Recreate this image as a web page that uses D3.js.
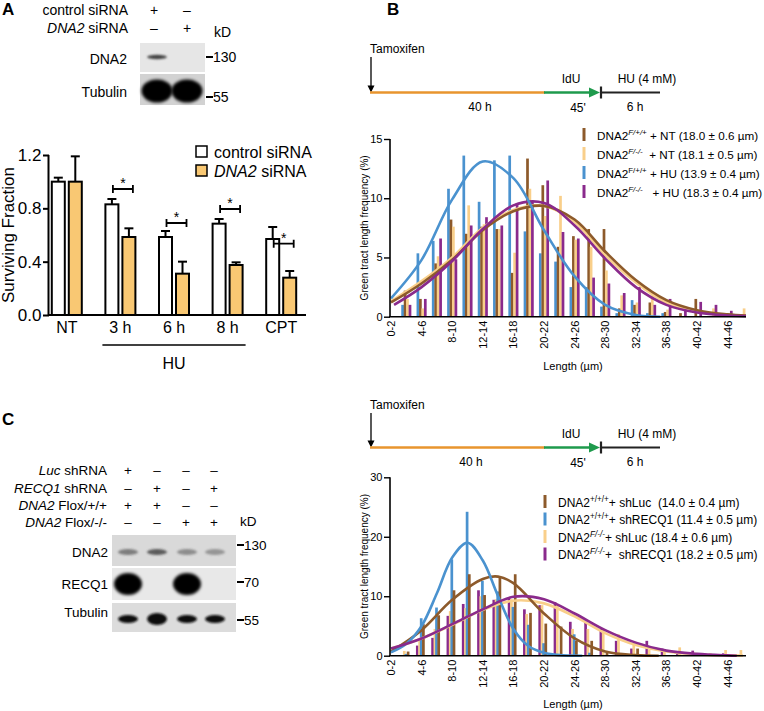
<!DOCTYPE html>
<html><head><meta charset="utf-8">
<script src="https://cdn.jsdelivr.net/npm/d3@7"></script>
<style>
body{margin:0;background:#fff}
svg{display:block;font-family:"Liberation Sans",Arial,Helvetica,sans-serif}
</style>
</head><body>
<svg id="fig" width="764" height="711"></svg>
<script>
// ---------------- DATA ----------------
// Panel A : surviving fraction
const survCats = ["NT", "3 h", "6 h", "8 h", "CPT"];
const survControl = [1.00, 0.83, 0.585, 0.685, 0.57];
const survControlErr = [0.03, 0.04, 0.045, 0.035, 0.09];
const survDNA2 = [1.00, 0.585, 0.31, 0.375, 0.28];
const survDNA2Err = [0.19, 0.065, 0.09, 0.02, 0.05];
const sigCats = ["3 h", "6 h", "8 h", "CPT"];
const sigLevel = [0.945, 0.69, 0.795, 0.535];
const survTicks = [0, 0.4, 0.8, 1.2];
const survLegend = ["control siRNA", "DNA2 siRNA"];

// Panel B/C histograms : bins of 2 µm
const binLabels = ["0-2","2-4","4-6","6-8","8-10","10-12","12-14","14-16","16-18","18-20","20-22","22-24",
  "24-26","26-28","28-30","30-32","32-34","34-36","36-38","38-40","40-42","42-44","44-46","46-48"];
const binTickLabels = ["0-2","4-6","8-10","12-14","16-18","20-22","24-26","28-30","32-34","36-38","40-42","44-46"];

// top histogram (%)
const topBlueHU   = [0, 1.0, 5.35, 6.4, 10.8, 13.6, 9.7, 13.2, 13.6, 7.2, 5.35, 4.65, 2.5, 2.5, 0.85, 0.3, 1.4, 0.3, 0.3, 0, 0, 0, 0, 0];
const topBrownNT  = [0, 2.2, 1.5, 4.5, 8.2, 7.0, 7.6, 7.4, 3.7, 13.35, 11.1, 5.9, 6.8, 7.4, 7.4, 0.7, 1.0, 1.2, 0.4, 0.3, 1.5, 0, 0, 0];
const topYellowNT = [0, 1.5, 0.7, 5.1, 7.6, 9.4, 7.8, 7.4, 5.4, 10.8, 8.5, 10.2, 6.5, 5.9, 3.9, 1.8, 1.2, 1.8, 0.6, 0, 0, 0.7, 0, 0.7];
const topPurpleHU = [0, 1.0, 1.5, 6.6, 4.85, 7.7, 8.4, 7.7, 9.6, 9.7, 11.5, 7.15, 6.6, 3.3, 2.8, 2.0, 2.5, 1.0, 1.5, 0.5, 1.25, 1.0, 0.5, 0];
// fitted curves (bin position, %)
const topBlueFitX = [0, 2, 4, 6, 8, 10, 12, 14, 16, 17.6];
const topBlueFitY = [1.55, 4.8, 9.9, 13.1, 11.7, 7.3, 3.4, 1.0, 0.15, 0];
const topBrownFitX = [0, 2, 4, 6, 8, 10, 12, 14, 16, 18, 20, 22, 23.2];
const topBrownFitY = [1.2, 2.8, 4.8, 7.3, 8.9, 9.35, 8.2, 5.5, 3.1, 1.4, 0.55, 0.2, 0.1];
const topYellowFitX = [0, 2, 4, 6, 8, 10, 12, 14, 16, 18, 20, 22, 23.2];
const topYellowFitY = [1.3, 3.0, 5.0, 7.5, 9.0, 9.35, 8.0, 5.2, 2.9, 1.2, 0.45, 0.15, 0.1];
const topPurpleFitX = [0.2, 2, 4, 6, 8, 10, 12, 14, 16, 18, 20, 22, 23.2];
const topPurpleFitY = [1.0, 2.5, 4.7, 7.4, 9.4, 9.6, 7.7, 4.9, 2.5, 1.0, 0.35, 0.1, 0.05];

// bottom histogram (%)
const botBlueR   = [0, 0.3, 6.3, 8.1, 16.2, 24.2, 12.6, 10.8, 8.2, 5.2, 2.1, 0.3, 3.6, 0.5, 0, 0, 0, 0, 0, 0, 0, 0, 0, 0];
const botBrownL  = [0, 0.7, 5.3, 6.8, 11.0, 13.7, 10.2, 13.3, 13.7, 7.2, 5.4, 4.9, 2.5, 2.5, 0.5, 0, 1.2, 0, 0, 0, 0, 0, 0, 0];
const botYellowL = [0, 0.8, 2.5, 4.5, 7.5, 8.0, 10.0, 9.5, 9.5, 7.0, 8.5, 8.6, 4.5, 4.5, 4.4, 3.6, 2.0, 1.0, 1.0, 1.4, 0.5, 0.4, 0.95, 0.95];
const botPurpleR = [0, 0, 1.7, 3.0, 6.7, 8.7, 11.0, 9.4, 9.8, 7.8, 8.5, 9.0, 5.7, 5.7, 4.5, 2.5, 1.2, 2.5, 1.2, 0.3, 0.85, 0, 0.4, 0];
const botBlueFitX = [0, 1, 2, 3, 4, 5, 6, 7, 8, 9, 10, 11, 12.5];
const botBlueFitY = [0.55, 2.0, 5.0, 10.5, 16.5, 19.0, 16.0, 10.0, 4.5, 1.6, 0.5, 0.1, 0];
const botBrownFitX = [0, 2, 4, 6, 7, 8, 10, 12, 14, 16, 17.5];
const botBrownFitY = [0.7, 4.3, 9.4, 12.9, 13.3, 12.2, 7.1, 2.9, 0.7, 0.1, 0];
const botYellowFitX = [0, 2, 4, 6, 8, 10, 12, 14, 16, 18, 20, 22, 23];
const botYellowFitY = [1.2, 2.9, 5.2, 7.7, 9.25, 8.8, 6.6, 3.8, 1.8, 0.7, 0.2, 0.05, 0.02];
const botPurpleFitX = [0, 2, 4, 6, 8, 10, 12, 14, 16, 18, 20, 22, 22.6];
const botPurpleFitY = [1.2, 2.9, 5.3, 7.8, 9.9, 9.5, 7.1, 4.3, 2.2, 0.85, 0.3, 0.05, 0];

const topTicks = [0, 5, 10, 15];
const botTicks = [0, 10, 20, 30];

// ---------------- DRAW ----------------
const svg = d3.select("#fig");
const C = {brown:"#8d5a2b", yellow:"#f9cf8a", blue:"#4a92cf", purple:"#8a2a8c",
           orangeBar:"#f9c873", tlOrange:"#e8952e", tlGreen:"#1e9a4c"};

[["A",2,15],["B",387,15],["C",2,425]].forEach(([t,x,y]) =>
  svg.append("text").attr("x",x).attr("y",y).attr("font-size",17).attr("font-weight","bold").text(t));

const defs = svg.append("defs");
const f = defs.append("filter").attr("id","blur").attr("x","-50%").attr("y","-50%").attr("width","200%").attr("height","200%");
f.append("feGaussianBlur").attr("stdDeviation",1.6);
const f2 = defs.append("filter").attr("id","blur2").attr("x","-50%").attr("y","-50%").attr("width","200%").attr("height","200%");
f2.append("feGaussianBlur").attr("stdDeviation",0.9);

// ----- Panel A header / blot -----
const gA = svg.append("g");
const fs14 = 14;
gA.append("text").attr("x",128).attr("y",15).attr("text-anchor","end").attr("font-size",fs14).text("control siRNA");
const t2 = gA.append("text").attr("x",128).attr("y",33).attr("text-anchor","end").attr("font-size",fs14);
t2.append("tspan").attr("font-style","italic").text("DNA2");
t2.append("tspan").text(" siRNA");
[["+",154,15],["–",187,15],["–",154,33],["+",187,33]].forEach(([s,x,y]) =>
  gA.append("text").attr("x",x).attr("y",y).attr("text-anchor","middle").attr("font-size",fs14).text(s));
gA.append("text").attr("x",214).attr("y",37).attr("font-size",fs14).text("kD");
gA.append("rect").attr("x",140).attr("y",43).attr("width",65).attr("height",29).attr("fill","#e6e6e6");
gA.append("ellipse").attr("cx",157).attr("cy",57).attr("rx",10).attr("ry",2.2).attr("fill","#444").attr("filter","url(#blur2)");
gA.append("rect").attr("x",140).attr("y",74).attr("width",65).attr("height",31).attr("fill","#d2d2d2");
gA.append("ellipse").attr("cx",157).attr("cy",91).attr("rx",15.5).attr("ry",11.5).attr("fill","#000").attr("filter","url(#blur)");
gA.append("ellipse").attr("cx",187).attr("cy",91).attr("rx",15.5).attr("ry",11.5).attr("fill","#000").attr("filter","url(#blur)");
gA.append("text").attr("x",127).attr("y",64).attr("text-anchor","end").attr("font-size",fs14).text("DNA2");
gA.append("text").attr("x",127).attr("y",97).attr("text-anchor","end").attr("font-size",fs14).text("Tubulin");
[["130",57],["55",97]].forEach(([t,y]) => {
  gA.append("line").attr("x1",206).attr("x2",213).attr("y1",y).attr("y2",y).attr("stroke","#000").attr("stroke-width",2);
  gA.append("text").attr("x",213).attr("y",y+5).attr("font-size",fs14).text(t);
});

// ----- Panel A bar chart -----
const xA = d3.scaleBand().domain(survCats).range([40, 308]);
const yA = d3.scaleLinear().domain([0, 1.2]).range([315, 155]);
const gAx = svg.append("g");
const cx = c => xA(c) + xA.bandwidth()/2;
const bw = 13;
function drawBars(vals, errs, dx, fill) {
  survCats.forEach((c,i) => {
    const x0 = cx(c) + dx;
    const v = vals[i], e = errs[i];
    gAx.append("line").attr("x1",x0+bw/2).attr("x2",x0+bw/2).attr("y1",yA(v)).attr("y2",yA(v+e)).attr("stroke","#000").attr("stroke-width",2);
    gAx.append("line").attr("x1",x0+bw/2-4.5).attr("x2",x0+bw/2+4.5).attr("y1",yA(v+e)).attr("y2",yA(v+e)).attr("stroke","#000").attr("stroke-width",2);
    gAx.append("rect").attr("x",x0).attr("y",yA(v)).attr("width",bw).attr("height",yA(0)-yA(v))
      .attr("fill",fill).attr("stroke","#000").attr("stroke-width",2);
  });
}
drawBars(survControl, survControlErr, -15, "#fff");
drawBars(survDNA2, survDNA2Err, 2, C.orangeBar);
sigCats.forEach((c,i) => {
  const x1 = cx(c) - 7.5, x2 = cx(c) + 12.5, y = yA(sigLevel[i]);
  gAx.append("path").attr("d",`M${x1},${y-4}V${y+4}M${x1},${y}H${x2}M${x2},${y-4}V${y+4}`)
    .attr("stroke","#000").attr("stroke-width",1.8).attr("fill","none");
  gAx.append("text").attr("x",(x1+x2)/2).attr("y",y-1).attr("text-anchor","middle").attr("font-size",14).text("*");
});
const yAxisA = d3.axisLeft(yA).tickValues(survTicks).tickFormat(d3.format(".1f")).tickSize(6).tickPadding(1.5);
gAx.append("g").attr("transform","translate(49,0)").call(yAxisA)
  .call(g => { g.select(".domain").attr("stroke-width",2).attr("d","M-0.5,"+yA(1.2)+"V"+yA(0)); g.selectAll("line").attr("stroke-width",2);
               g.selectAll("text").attr("font-size",17).attr("font-family","Liberation Sans, Arial, sans-serif"); });
gAx.append("line").attr("x1",48).attr("x2",306).attr("y1",315).attr("y2",315).attr("stroke","#000").attr("stroke-width",2);
survCats.forEach(c => gAx.append("text").attr("x",cx(c)).attr("y",333).attr("text-anchor","middle").attr("font-size",16).text(c));
gAx.append("line").attr("x1",cx("3 h")-18).attr("x2",cx("8 h")+18).attr("y1",345).attr("y2",345).attr("stroke","#000").attr("stroke-width",1.5);
gAx.append("text").attr("x",(cx("3 h")+cx("8 h"))/2).attr("y",369).attr("text-anchor","middle").attr("font-size",16).text("HU");
gAx.append("text").attr("transform","translate(14,235) rotate(-90)").attr("text-anchor","middle").attr("font-size",17).text("Surviving Fraction");
[["#fff",152],[C.orangeBar,171]].forEach(([fill,y],i) => {
  gAx.append("rect").attr("x",196).attr("y",y-6).attr("width",11).attr("height",11).attr("fill",fill).attr("stroke","#000").attr("stroke-width",1.5);
  const t = gAx.append("text").attr("x",214).attr("y",y+5.5).attr("font-size",16);
  if (i===0) t.text(survLegend[0]);
  else { t.append("tspan").attr("font-style","italic").text("DNA2"); t.append("tspan").text(" siRNA"); }
});

// ----- Timelines -----
function timeline(yl, yTam, x40) {
  const g = svg.append("g");
  g.append("text").attr("x",370).attr("y",yTam+4).attr("font-size",12).text("Tamoxifen");
  g.append("line").attr("x1",371).attr("x2",371).attr("y1",yTam+8).attr("y2",yl-5).attr("stroke","#000").attr("stroke-width",1.3);
  g.append("path").attr("d",`M367.5,${yl-7}L374.5,${yl-7}L371,${yl}Z`).attr("fill","#000");
  g.append("line").attr("x1",370).attr("x2",545).attr("y1",yl).attr("y2",yl).attr("stroke",C.tlOrange).attr("stroke-width",2.5);
  g.append("line").attr("x1",544).attr("x2",592).attr("y1",yl).attr("y2",yl).attr("stroke",C.tlGreen).attr("stroke-width",2.5);
  g.append("path").attr("d",`M589,${yl-5}L600,${yl}L589,${yl+5}Z`).attr("fill",C.tlGreen);
  g.append("line").attr("x1",600).attr("x2",660).attr("y1",yl).attr("y2",yl).attr("stroke","#222").attr("stroke-width",2);
  g.append("line").attr("x1",601).attr("x2",601).attr("y1",yl-6).attr("y2",yl+6).attr("stroke","#222").attr("stroke-width",2.2);
  [["IdU",571,yl-10],["HU (4 mM)",647,yl-10],["40 h",x40,yl+18],["45'",578,yl+19],["6 h",635,yl+18]].forEach(([t,x,y]) =>
    g.append("text").attr("x",x).attr("y",y).attr("text-anchor","middle").attr("font-size",12).text(t));
}
timeline(92.5, 49, 480);
timeline(447.5, 405, 471);

// ----- Histograms -----
const xH = d3.scaleLinear().domain([0, 23]).range([391, 391 + 23*15.3]);
function histogram(cfg) {
  const g = svg.append("g");
  const y = d3.scaleLinear().domain([0, cfg.ymax]).range([cfg.y0, cfg.yTop]);
  cfg.bars.forEach(s => {
    g.selectAll(null).data(s.values).join("rect")
      .attr("x",(d,i) => xH(i) + s.dx - 1.35).attr("width",2.7)
      .attr("y",d => y(d)).attr("height",d => y(0)-y(d)).attr("fill",s.color);
  });
  const line = d3.line().x(d => xH(d[0])).y(d => y(d[1])).curve(d3.curveCatmullRom.alpha(0.5));
  cfg.fits.forEach(s => {
    g.append("path").attr("d",line(d3.zip(s.x, s.y))).attr("fill","none").attr("stroke",s.color).attr("stroke-width",2.6);
  });
  g.append("g").attr("transform","translate(390,0)")
    .call(d3.axisLeft(y).tickValues(cfg.ticks).tickSize(6).tickPadding(1.5))
    .call(a => { a.select(".domain").attr("stroke-width",1.6).attr("d","M0,"+y(cfg.ymax)+"V"+y(0));
                 a.selectAll("line").attr("stroke-width",1.4);
                 a.selectAll("text").attr("font-size",11).attr("font-family","Liberation Sans, Arial, sans-serif"); });
  g.append("line").attr("x1",389).attr("x2",746).attr("y1",y(0)).attr("y2",y(0)).attr("stroke","#000").attr("stroke-width",1.6);
  binTickLabels.forEach(lbl => {
    const i = binLabels.indexOf(lbl);
    g.append("text").attr("transform",`translate(${xH(i)+4},${y(0)+4}) rotate(-90)`)
      .attr("text-anchor","end").attr("font-size",11).text(lbl);
  });
  g.append("text").attr("transform",`translate(368,${(cfg.y0+cfg.yTop)/2}) rotate(-90)`).attr("text-anchor","middle")
    .attr("font-size",10).text("Green tract length frequency (%)");
  g.append("text").attr("x",573).attr("y",cfg.y0+cfg.lenDy).attr("text-anchor","middle").attr("font-size",11).text("Length (µm)");
  cfg.legend.forEach((L,k) => {
    const yy = cfg.legY + k*cfg.legDy;
    g.append("line").attr("x1",cfg.legX).attr("x2",cfg.legX).attr("y1",yy-7).attr("y2",yy+6).attr("stroke",L.color).attr("stroke-width",3);
    const t = g.append("text").attr("x",cfg.legX+13).attr("y",yy+4.5).attr("font-size",cfg.legFs).style("white-space","pre");
    t.append("tspan").text("DNA2");
    t.append("tspan").attr("dy",-5).attr("font-size",cfg.legFs*0.68).attr("font-style",L.supItalic ? "italic" : "normal").text(L.sup);
    t.append("tspan").attr("dy",5).text(L.rest);
  });
}

histogram({
  ymax: 15, y0: 316.7, yTop: 139, ticks: topTicks, lenDy: 53,
  bars: [
    {values: topBlueHU, dx: -3.7, color: C.blue},
    {values: topBrownNT, dx: -1.2, color: C.brown},
    {values: topYellowNT, dx: 1.2, color: C.yellow},
    {values: topPurpleHU, dx: 3.7, color: C.purple}
  ],
  fits: [
    {x: topYellowFitX, y: topYellowFitY, color: C.yellow},
    {x: topBrownFitX, y: topBrownFitY, color: C.brown},
    {x: topPurpleFitX, y: topPurpleFitY, color: C.purple},
    {x: topBlueFitX, y: topBlueFitY, color: C.blue}
  ],
  legX: 584, legY: 135, legDy: 19, legFs: 11.7,
  legend: [
    {color: C.brown, sup: "F/+/+", supItalic: true, rest: " + NT (18.0 ± 0.6 µm)"},
    {color: C.yellow, sup: "F/-/-", supItalic: true, rest: "  + NT (18.1 ± 0.5 µm)"},
    {color: C.blue, sup: "F/+/+", supItalic: false, rest: " + HU (13.9 ± 0.4 µm)"},
    {color: C.purple, sup: "F/-/-", supItalic: true, rest: "   + HU (18.3 ± 0.4 µm)"}
  ]
});

histogram({
  ymax: 30, y0: 655.7, yTop: 477.3, ticks: botTicks, lenDy: 52,
  bars: [
    {values: botPurpleR, dx: -4.3, color: C.purple},
    {values: botYellowL, dx: -2.0, color: C.yellow},
    {values: botBlueR, dx: -0.4, color: C.blue},
    {values: botBrownL, dx: 1.8, color: C.brown}
  ],
  fits: [
    {x: botYellowFitX, y: botYellowFitY, color: C.yellow},
    {x: botBrownFitX, y: botBrownFitY, color: C.brown},
    {x: botBlueFitX, y: botBlueFitY, color: C.blue},
    {x: botPurpleFitX, y: botPurpleFitY, color: C.purple}
  ],
  legX: 545, legY: 502, legDy: 17.5, legFs: 12,
  legend: [
    {color: C.brown, sup: "+/+/+", supItalic: false, rest: "+ shLuc  (14.0 ± 0.4 µm)"},
    {color: C.blue, sup: "+/+/+", supItalic: false, rest: "+ shRECQ1 (11.4 ± 0.5 µm)"},
    {color: C.yellow, sup: "F/-/-", supItalic: true, rest: "+ shLuc (18.4 ± 0.6 µm)"},
    {color: C.purple, sup: "F/-/-", supItalic: true, rest: "+  shRECQ1 (18.2 ± 0.5 µm)"}
  ]
});

// ----- Panel C -----
const gC = svg.append("g");
const fsC = 13.5;
const cRows = [
  {it:"Luc", rest:" shRNA", y:475, signs:["+","–","–","–"]},
  {it:"RECQ1", rest:" shRNA", y:493, signs:["–","+","–","+"]},
  {it:"DNA2", rest:" Flox/+/+", y:510, signs:["+","+","–","–"]},
  {it:"DNA2", rest:" Flox/-/-", y:527, signs:["–","–","+","+"]}
];
const laneX = [128, 157, 186, 214];
cRows.forEach(r => {
  const t = gC.append("text").attr("x",107).attr("y",r.y).attr("text-anchor","end").attr("font-size",fsC);
  t.append("tspan").attr("font-style","italic").text(r.it);
  t.append("tspan").text(r.rest);
  r.signs.forEach((s,i) => gC.append("text").attr("x",laneX[i]).attr("y",r.y).attr("text-anchor","middle").attr("font-size",fsC).text(s));
});
gC.append("text").attr("x",240).attr("y",526).attr("font-size",fsC).text("kD");
gC.append("rect").attr("x",112).attr("y",535).attr("width",124).attr("height",31).attr("fill","#d9d9d9");
[[128,0.55],[157,0.75],[187,0.45],[215,0.4]].forEach(([x,o]) =>
  gC.append("ellipse").attr("cx",x).attr("cy",552).attr("rx",10).attr("ry",3).attr("fill","#333").attr("opacity",o).attr("filter","url(#blur2)"));
gC.append("rect").attr("x",112).attr("y",568).attr("width",124).attr("height",32).attr("fill","#e8e8e8");
[128,187].forEach(x => gC.append("ellipse").attr("cx",x).attr("cy",584).attr("rx",14).attr("ry",11).attr("fill","#000").attr("filter","url(#blur)"));
gC.append("rect").attr("x",112).attr("y",603).attr("width",124).attr("height",29).attr("fill","#dcdcdc");
[[128,10,4],[157,10,6],[187,10,4],[215,10,4]].forEach(([x,rx,ry]) =>
  gC.append("ellipse").attr("cx",x).attr("cy",619).attr("rx",rx).attr("ry",ry).attr("fill","#111").attr("filter","url(#blur2)"));
[["DNA2",552],["RECQ1",584],["Tubulin",612]].forEach(([t,y]) =>
  gC.append("text").attr("x",108).attr("y",y+5).attr("text-anchor","end").attr("font-size",fsC).text(t));
[["130",545],["70",582],["55",620]].forEach(([t,y]) => {
  gC.append("line").attr("x1",237).attr("x2",244).attr("y1",y).attr("y2",y).attr("stroke","#000").attr("stroke-width",2);
  gC.append("text").attr("x",244).attr("y",y+5).attr("font-size",fsC).text(t);
});
</script>
</body></html>
